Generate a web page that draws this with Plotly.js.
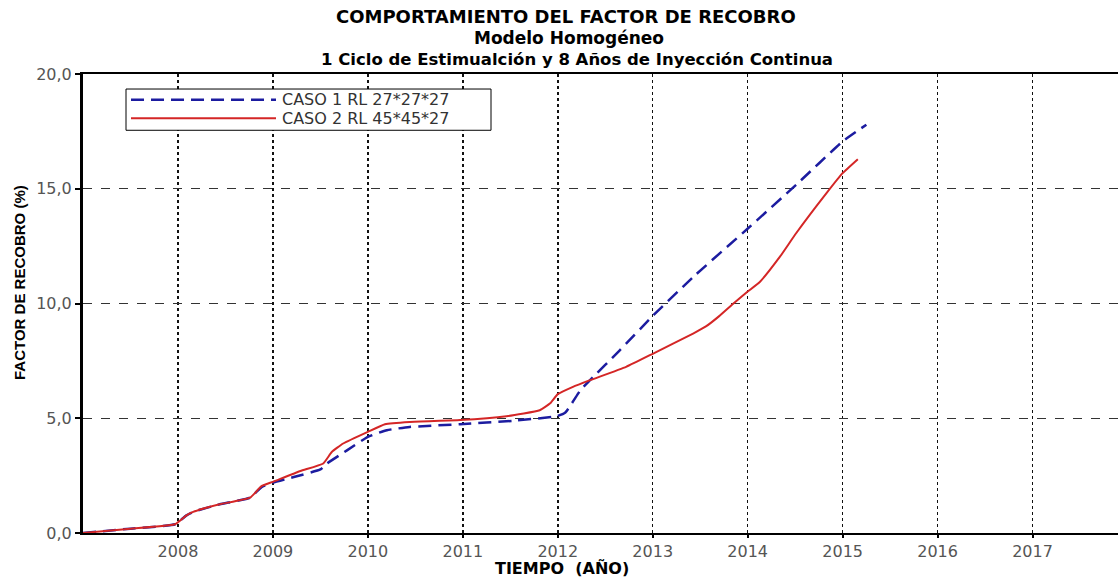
<!DOCTYPE html>
<html>
<head>
<meta charset="utf-8">
<script src="https://cdn.plot.ly/plotly-3.0.1.min.js"></script>
<style>html,body{margin:0;padding:0;background:#fff;}#chart{width:1118px;height:577px;}</style>
</head>
<body>
<div id="chart"></div>
<script>
// ---- data ----
const caso1Name = "CASO 1 RL 27*27*27";
const caso1Years = [2007.0, 2007.5, 2007.97, 2008.09, 2008.16, 2008.44, 2008.76, 2008.88, 2009.0, 2009.22, 2009.50, 2009.57, 2009.78, 2010.0, 2010.2, 2010.44, 2010.97, 2011.53, 2011.99, 2012.08, 2012.24, 2012.34, 2012.65, 2013.01, 2013.43, 2014.01, 2014.51, 2015.0, 2015.25];
const caso1Values = [0.0, 0.19, 0.38, 0.77, 0.92, 1.25, 1.54, 2.0, 2.2, 2.44, 2.77, 3.03, 3.6, 4.19, 4.48, 4.62, 4.74, 4.89, 5.09, 5.25, 6.23, 6.66, 7.95, 9.5, 11.17, 13.3, 15.17, 17.06, 17.79];

const caso2Name = "CASO 2 RL 45*45*27";
const caso2Years = [2007.0, 2007.5, 2007.97, 2008.09, 2008.16, 2008.44, 2008.76, 2008.88, 2009.0, 2009.29, 2009.53, 2009.62, 2009.74, 2010.0, 2010.18, 2010.44, 2010.97, 2011.46, 2011.81, 2011.92, 2012.0, 2012.16, 2012.34, 2012.72, 2013.01, 2013.43, 2013.56, 2013.7, 2013.85, 2014.0, 2014.13, 2014.34, 2014.51, 2014.83, 2015.0, 2015.16];
const caso2Values = [0.0, 0.19, 0.38, 0.77, 0.92, 1.25, 1.54, 2.04, 2.23, 2.7, 3.03, 3.53, 3.9, 4.41, 4.74, 4.84, 4.92, 5.09, 5.35, 5.65, 6.05, 6.37, 6.66, 7.24, 7.83, 8.7, 9.0, 9.45, 10.0, 10.52, 10.95, 12.04, 13.06, 14.81, 15.68, 16.29];

const xTickVals = [2008, 2009, 2010, 2011, 2012, 2013, 2014, 2015, 2016, 2017];
const yTickVals = [0, 5, 10, 15, 20];
const yTickText = ["0,0", "5,0", "10,0", "15,0", "20,0"];

const titleLines = ["COMPORTAMIENTO DEL FACTOR DE RECOBRO", "Modelo Homogéneo", "1 Ciclo de Estimualción y 8 Años de Inyección Continua"];
const xTitle = "TIEMPO  (AÑO)";
const yTitle = "FACTOR DE RECOBRO (%)";

// ---- styles ----
const blue = "#1c1ca0";
const red = "#d42626";
const tickFont = {family: "DejaVu Sans", size: 16, color: "#555"};

const traces = [
  {x: caso1Years, y: caso1Values, name: caso1Name, type: "scatter", mode: "lines",
   line: {color: blue, width: 2.5, dash: "13px,7px", shape: "spline", smoothing: 0.4}, showlegend: false},
  {x: caso2Years, y: caso2Values, name: caso2Name, type: "scatter", mode: "lines",
   line: {color: red, width: 2, shape: "spline", smoothing: 0.4}, showlegend: false}
];

// paper coordinate helpers (plot area: x 83..1118, y 74.3..532.7)
const px = v => (v - 83) / 1035;
const py = v => (532.7 - v) / 458.4;

const layout = {
  width: 1118, height: 577,
  margin: {l: 83, r: 0, t: 74, b: 44, pad: 0},
  paper_bgcolor: "#fff", plot_bgcolor: "#fff",
  showlegend: false,
  xaxis: {
    range: [2007, 2017.9], tickvals: xTickVals, ticktext: xTickVals.map(String),
    showline: true, linecolor: "#000", linewidth: 2, mirror: true,
    ticks: "outside", ticklen: 3, tickwidth: 2, tickcolor: "#000",
    showgrid: true, gridcolor: "#111", gridwidth: 1.5, griddash: "dot",
    zeroline: false, tickfont: tickFont
  },
  yaxis: {
    range: [0, 20], tickvals: yTickVals, ticktext: yTickText,
    showline: true, linecolor: "#000", linewidth: 3,
    ticks: "outside", ticklen: 5, tickwidth: 2, tickcolor: "#000",
    showgrid: true, gridcolor: "#333", gridwidth: 1.2, griddash: "dash",
    zeroline: false, tickfont: tickFont
  },
  shapes: [
    {type: "rect", xref: "paper", yref: "paper", x0: px(126), x1: px(491), y0: py(130.5), y1: py(89.3),
     line: {color: "#000", width: 1}, fillcolor: "#fff"},
    {type: "line", xref: "paper", yref: "paper", x0: px(131), x1: px(276), y0: py(100), y1: py(100),
     line: {color: blue, width: 2.5, dash: "13px,7px"}},
    {type: "line", xref: "paper", yref: "paper", x0: px(131), x1: px(276), y0: py(118.5), y1: py(118.5),
     line: {color: red, width: 2}}
  ],
  annotations: [
    {text: caso1Name, xref: "paper", yref: "paper", x: px(280), y: py(99.5), xanchor: "left", yanchor: "middle",
     showarrow: false, font: {family: "DejaVu Sans", size: 16, color: "#333"}},
    {text: caso2Name, xref: "paper", yref: "paper", x: px(280), y: py(119), xanchor: "left", yanchor: "middle",
     showarrow: false, font: {family: "DejaVu Sans", size: 16, color: "#333"}},
    {text: "<b>" + titleLines[0] + "</b>", xref: "paper", yref: "paper", x: px(566), y: py(17), xanchor: "center", yanchor: "middle",
     showarrow: false, font: {family: "DejaVu Sans", size: 18, color: "#000"}},
    {text: "<b>" + titleLines[1] + "</b>", xref: "paper", yref: "paper", x: px(569), y: py(38.5), xanchor: "center", yanchor: "middle",
     showarrow: false, font: {family: "DejaVu Sans", size: 17, color: "#000"}},
    {text: "<b>" + titleLines[2] + "</b>", xref: "paper", yref: "paper", x: px(577), y: py(60), xanchor: "center", yanchor: "middle",
     showarrow: false, font: {family: "DejaVu Sans", size: 16.5, color: "#000"}},
    {text: "<b>" + xTitle + "</b>", xref: "paper", yref: "paper", x: px(562), y: py(568.5), xanchor: "center", yanchor: "middle",
     showarrow: false, font: {family: "DejaVu Sans", size: 16, color: "#000"}},
    {text: "<b>" + yTitle + "</b>", xref: "paper", yref: "paper", x: px(20), y: py(283), xanchor: "center", yanchor: "middle",
     textangle: -90, showarrow: false, font: {family: "Liberation Sans", size: 15, color: "#000"}}
  ]
};

Plotly.newPlot("chart", traces, layout, {displayModeBar: false, staticPlot: true});
</script>
</body>
</html>
